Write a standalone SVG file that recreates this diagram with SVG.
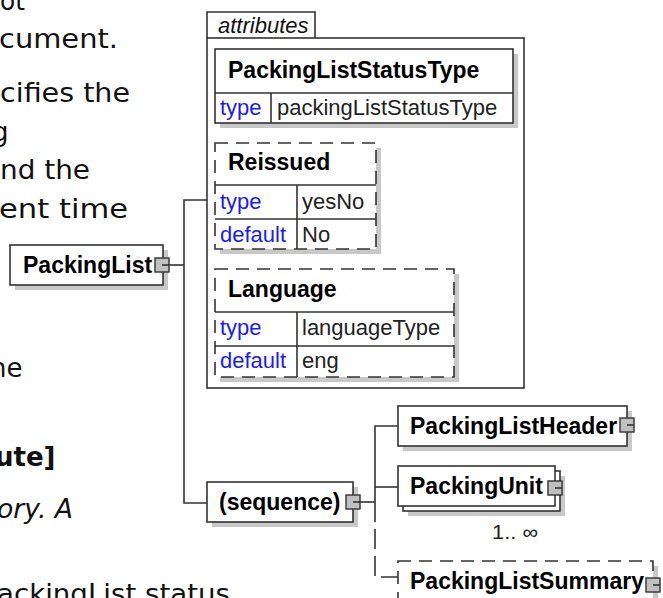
<svg xmlns="http://www.w3.org/2000/svg" width="663" height="598" viewBox="0 0 663 598">
<style>
.help{font-family:"DejaVu Sans",Verdana,sans-serif;font-size:26px;fill:#111}
.lbl{font-family:"Liberation Sans",Arial,sans-serif;font-size:23px;font-weight:bold;fill:#000}
.key{font-family:"Liberation Sans",Arial,sans-serif;font-size:22px;fill:#1a1aff}
.val{font-family:"Liberation Sans",Arial,sans-serif;font-size:22px;fill:#222}
.box{fill:#fff;stroke:#333;stroke-width:1.6}
.dbox{fill:#fff;stroke:#333;stroke-width:1.6;stroke-dasharray:13 8}
.shd{fill:#c8c8c8;stroke:none}
.ln{fill:none;stroke:#333;stroke-width:1.6}
.dln{fill:none;stroke:#333;stroke-width:1.6;stroke-dasharray:20 7}
.sq{fill:#c0c0c0;stroke:#333;stroke-width:1.4}
</style>
<defs>
<g id="exp"><rect class="sq" x="-7" y="-7" width="14" height="14"/><line class="ln" x1="0" y1="0" x2="7" y2="0"/></g>
</defs>

<g id="helptext">
<text class="help" x="0" y="10" textLength="25" lengthAdjust="spacingAndGlyphs">ot</text>
<text class="help" x="-1" y="48" textLength="119" lengthAdjust="spacingAndGlyphs">cument.</text>
<text class="help" x="0" y="102" textLength="130" lengthAdjust="spacingAndGlyphs">cifies the</text>
<text class="help" x="-8" y="141">g</text>
<text class="help" x="0" y="179" textLength="90" lengthAdjust="spacingAndGlyphs">nd the</text>
<text class="help" x="-1" y="218" textLength="129" lengthAdjust="spacingAndGlyphs">ent time</text>
<text class="help" x="-10" y="377">ne</text>
<text class="help" x="-5" y="466" style="font-weight:bold">ute]</text>
<text class="help" x="-3" y="518" textLength="76" lengthAdjust="spacingAndGlyphs" style="font-style:italic">ory. A</text>
<text class="help" x="-3" y="603" textLength="233" lengthAdjust="spacingAndGlyphs">ackingList status</text>
</g>

<g id="connectors">
<line class="ln" x1="169" y1="265" x2="184" y2="265"/>
<path class="ln" d="M207,200 H184 V503 H207"/>
<line class="ln" x1="360" y1="502" x2="375" y2="502"/>
<path class="ln" d="M398,426 H375 V502"/>
<line class="ln" x1="375" y1="487" x2="398" y2="487"/>
<path class="dln" d="M375,502 V577 H398"/>
</g>

<g id="PackingList">
<rect class="shd" x="15" y="250" width="153" height="40"/>
<rect class="box" x="10" y="245" width="153" height="40"/>
<text class="lbl" x="23" y="273">PackingList</text>
<use href="#exp" x="162" y="265"/>
</g>

<g id="attributes">
<path class="ln" d="M207,38 V12 H315 V38"/>
<rect class="box" x="207" y="38" width="317" height="350"/>
<text x="218" y="33" style="font-family:'Liberation Sans',Arial,sans-serif;font-size:22px;font-style:italic;fill:#111">attributes</text>
</g>

<g id="PackingListStatusType">
<rect class="shd" x="220" y="54" width="298" height="74"/>
<rect class="box" x="215" y="49" width="298" height="74"/>
<line class="ln" x1="215" y1="93" x2="513" y2="93"/>
<line class="ln" x1="271" y1="93" x2="271" y2="123"/>
<text class="lbl" x="228" y="78">PackingListStatusType</text>
<text class="key" x="220" y="115">type</text>
<text class="val" x="277" y="115">packingListStatusType</text>
</g>

<g id="Reissued">
<rect class="shd" x="220" y="148" width="161" height="106"/>
<rect class="dbox" x="215" y="143" width="161" height="106"/>
<line class="ln" x1="215" y1="185" x2="376" y2="185"/>
<line class="ln" x1="215" y1="219" x2="376" y2="219"/>
<line class="ln" x1="297" y1="185" x2="297" y2="249"/>
<text class="lbl" x="228" y="170">Reissued</text>
<text class="key" x="220" y="209">type</text>
<text class="val" x="302" y="209">yesNo</text>
<text class="key" x="220" y="242">default</text>
<text class="val" x="302" y="242">No</text>
</g>

<g id="Language">
<rect class="shd" x="220" y="274" width="239" height="108"/>
<rect class="dbox" x="215" y="269" width="239" height="108"/>
<line class="ln" x1="215" y1="312" x2="454" y2="312"/>
<line class="ln" x1="215" y1="346" x2="454" y2="346"/>
<line class="ln" x1="297" y1="312" x2="297" y2="377"/>
<text class="lbl" x="228" y="297">Language</text>
<text class="key" x="220" y="335">type</text>
<text class="val" x="302" y="335">languageType</text>
<text class="key" x="220" y="368">default</text>
<text class="val" x="302" y="368">eng</text>
</g>

<g id="sequence">
<rect class="shd" x="212" y="487" width="146" height="40"/>
<rect class="box" x="207" y="482" width="146" height="40"/>
<text class="lbl" x="219" y="510">(sequence)</text>
<use href="#exp" x="353" y="502"/>
</g>

<g id="PackingListHeader">
<rect class="shd" x="403" y="411" width="229" height="40"/>
<rect class="box" x="398" y="406" width="229" height="40"/>
<text class="lbl" x="410" y="434">PackingListHeader</text>
<use href="#exp" x="627" y="425"/>
</g>

<g id="PackingUnit">
<rect class="shd" x="408" y="476" width="157" height="40"/>
<rect class="box" x="403" y="471" width="157" height="40"/>
<rect class="box" x="398" y="466" width="157" height="40"/>
<text class="lbl" x="410" y="494">PackingUnit</text>
<use href="#exp" x="555" y="488"/>
<text x="515" y="539" text-anchor="middle" textLength="46" lengthAdjust="spacingAndGlyphs" style="font-family:'Liberation Sans',Arial,sans-serif;font-size:20px;fill:#222">1.. ∞</text>
</g>

<g id="PackingListSummary">
<rect class="shd" x="403" y="566" width="255" height="40"/>
<rect class="dbox" x="398" y="561" width="255" height="40"/>
<text class="lbl" x="410" y="589">PackingListSummary</text>
<use href="#exp" x="653" y="585"/>
</g>
</svg>
